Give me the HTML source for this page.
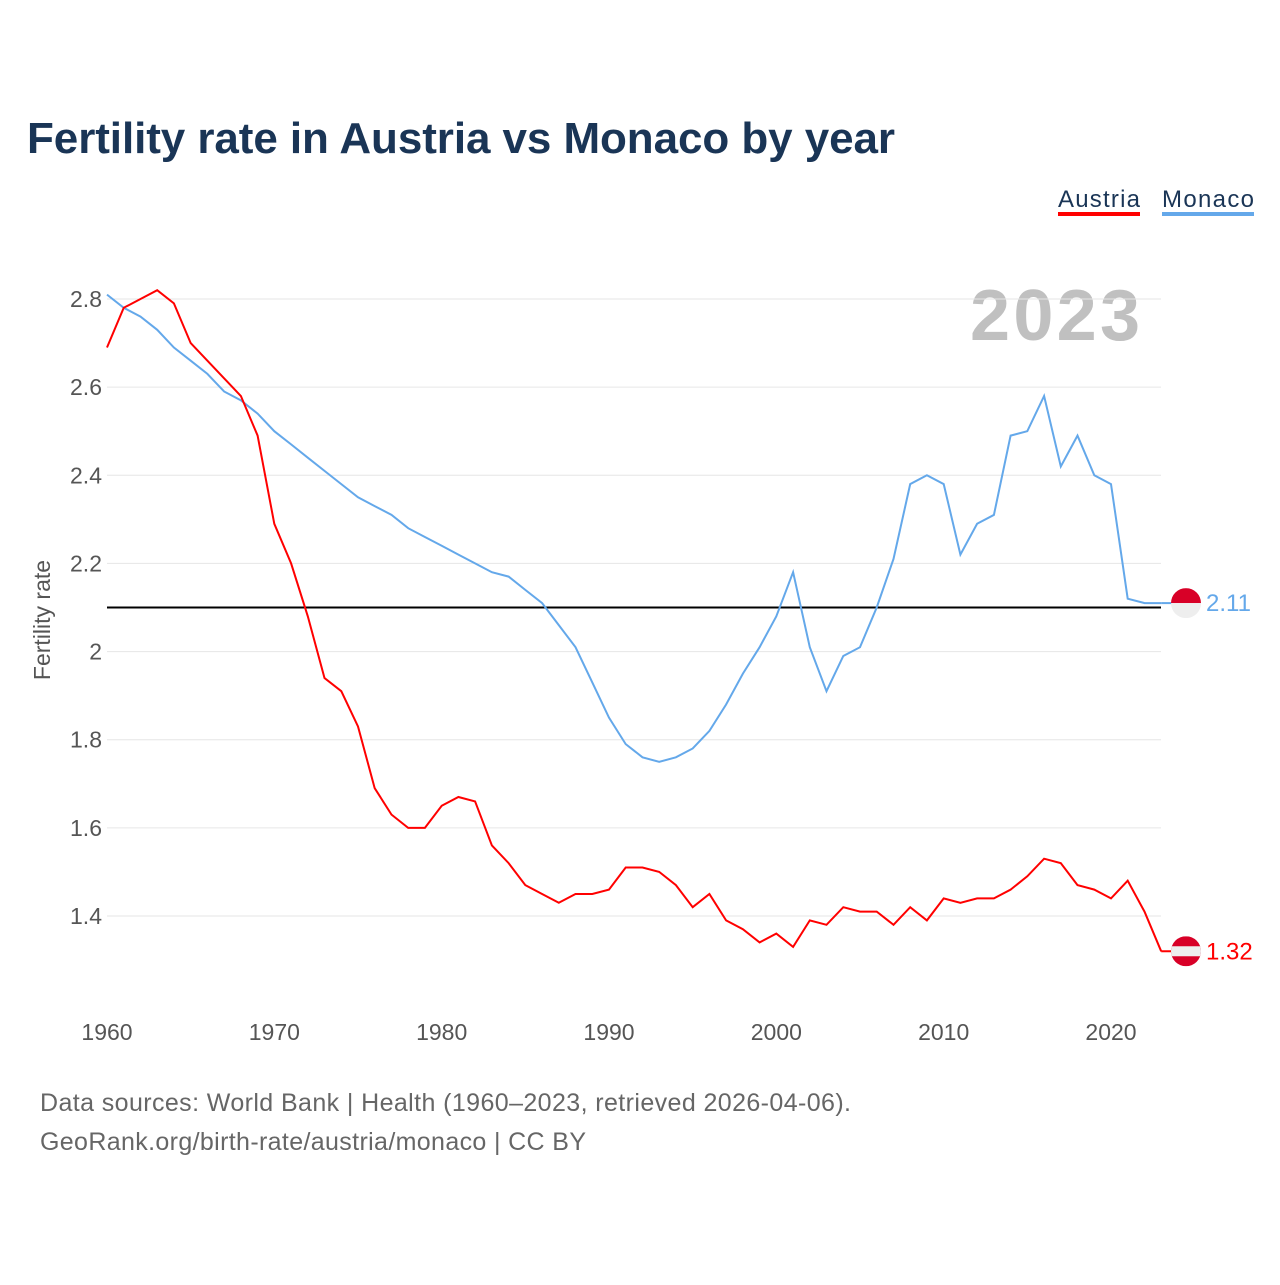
<!DOCTYPE html>
<html><head><meta charset="utf-8"><style>
body{margin:0;background:#fff;font-family:"Liberation Sans",sans-serif}
svg text{font-family:"Liberation Sans",sans-serif}
</style></head><body>
<svg id="chart" width="1280" height="1280">
<text x="27" y="153" font-size="44" font-weight="bold" fill="#1a3556" textLength="868">Fertility rate in Austria vs Monaco by year</text>
<g>
<text x="1058" y="207" font-size="24" fill="#1a3556" textLength="82">Austria</text>
<rect x="1058" y="212" width="82" height="4" fill="#ff0000"/>
<text x="1162" y="207" font-size="24" fill="#1a3556" textLength="92">Monaco</text>
<rect x="1162" y="212" width="92" height="4" fill="#64a8ea"/>
</g>
<text x="970" y="340" font-size="72" font-weight="bold" fill="#c0c0c0" textLength="170">2023</text>
<text transform="translate(50,620) rotate(-90)" font-size="23" fill="#555" text-anchor="middle">Fertility rate</text>
<g id="grid"></g><g id="lines"></g>
<text x="40" y="1111" font-size="25" fill="#666" textLength="811">Data sources: World Bank | Health (1960–2023, retrieved 2026-04-06).</text>
<text x="40" y="1150" font-size="25" fill="#666" textLength="546">GeoRank.org/birth-rate/austria/monaco | CC BY</text>
</svg>
<script>
const years=[];for(let y=1960;y<=2023;y++)years.push(y);
const austria=[2.69,2.78,2.80,2.82,2.79,2.70,2.66,2.62,2.58,2.49,2.29,2.20,2.08,1.94,1.91,1.83,1.69,1.63,1.60,1.60,1.65,1.67,1.66,1.56,1.52,1.47,1.45,1.43,1.45,1.45,1.46,1.51,1.51,1.50,1.47,1.42,1.45,1.39,1.37,1.34,1.36,1.33,1.39,1.38,1.42,1.41,1.41,1.38,1.42,1.39,1.44,1.43,1.44,1.44,1.46,1.49,1.53,1.52,1.47,1.46,1.44,1.48,1.41,1.32];
const monaco=[2.81,2.78,2.76,2.73,2.69,2.66,2.63,2.59,2.57,2.54,2.50,2.47,2.44,2.41,2.38,2.35,2.33,2.31,2.28,2.26,2.24,2.22,2.20,2.18,2.17,2.14,2.11,2.06,2.01,1.93,1.85,1.79,1.76,1.75,1.76,1.78,1.82,1.88,1.95,2.01,2.08,2.18,2.01,1.91,1.99,2.01,2.10,2.21,2.38,2.40,2.38,2.22,2.29,2.31,2.49,2.50,2.58,2.42,2.49,2.40,2.38,2.12,2.11,2.11];
const yTicks=[1.4,1.6,1.8,2,2.2,2.4,2.6,2.8];
const xTicks=[1960,1970,1980,1990,2000,2010,2020];
const refLine=2.1;
const NS="http://www.w3.org/2000/svg";
const X=y=>107+(y-1960)*(1111-107)/60;
const Y=v=>299+(2.8-v)*(916-299)/1.4;
function mk(tag,attrs,parent,txt){const e=document.createElementNS(NS,tag);for(const k in attrs)e.setAttribute(k,attrs[k]);if(txt!==undefined)e.textContent=txt;parent.appendChild(e);return e;}
const grid=document.getElementById('grid'),lines=document.getElementById('lines');
yTicks.forEach(t=>{
 const l=mk('line',{x1:107,x2:1161,y1:Y(t),y2:Y(t),stroke:'#e6e6e6'},grid);
 
 
 const tx=mk('text',{x:102,y:Y(t)+8,'font-size':23,fill:'#555','text-anchor':'end'},grid,String(t));
 
 
});
xTicks.forEach(t=>{
 const tx=mk('text',{x:X(t),y:1040,'font-size':23,fill:'#555','text-anchor':'middle'},grid,String(t));
 
 
});
const rl=mk('line',{x1:107,x2:1161,y1:Y(refLine),y2:Y(refLine),stroke:'#000','stroke-width':2},grid);


function series(vals,color,name){
 const d=vals.map((v,i)=>(i?'L':'M')+X(years[i]).toFixed(1)+','+Y(v).toFixed(1)).join(' ');
 const p=mk('path',{d:d,fill:'none',stroke:color,'stroke-width':2},lines);
 
 
 const last=vals[vals.length-1],ly=Y(last);
 mk('line',{x1:X(2023),x2:1172,y1:ly,y2:ly,stroke:color,'stroke-width':2},lines);
 return ly;
}
const ma=series(monaco,'#64a8ea','monaco');
const au=series(austria,'#ff0000','austria');
function flag(cy,type,name,val,color){
 const g=mk('g',{},lines);
 
 
 const cx=1186,r=15;
 const clip=mk('clipPath',{id:'c'+name},g);
 mk('circle',{cx:cx,cy:cy,r:r},clip);
 const gg=mk('g',{'clip-path':'url(#c'+name+')'},g);
 if(type==='mc'){mk('rect',{x:cx-r,y:cy-r,width:2*r,height:r,fill:'#d80027'},gg);mk('rect',{x:cx-r,y:cy,width:2*r,height:r,fill:'#eee'},gg);}
 else{mk('rect',{x:cx-r,y:cy-r,width:2*r,height:2*r,fill:'#d80027'},gg);mk('rect',{x:cx-r,y:cy-5,width:2*r,height:10,fill:'#eee'},gg);}
 const t=mk('text',{x:1206,y:cy+8,'font-size':24,fill:color},lines,val.toFixed(2));
 
 
}
flag(ma,'mc','monaco',monaco[monaco.length-1],'#64a8ea');
flag(au,'at','austria',austria[austria.length-1],'#ff0000');
</script>
</body></html>
